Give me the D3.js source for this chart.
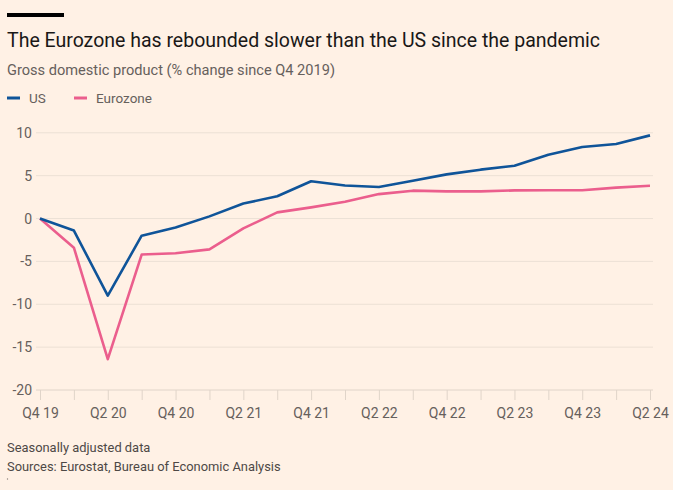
<!DOCTYPE html>
<html><head><meta charset="utf-8">
<script src="https://cdn.jsdelivr.net/npm/d3@7"></script>
<style>
html,body{margin:0;padding:0;background:#FFF1E5;}
svg{display:block;}
text{font-family:"Roboto","Noto Sans",sans-serif;}
</style></head>
<body>
<svg id="c" width="673" height="490"></svg>
<script>
const quarters = ["Q4 19","Q1 20","Q2 20","Q3 20","Q4 20","Q1 21","Q2 21","Q3 21","Q4 21","Q1 22","Q2 22","Q3 22","Q4 22","Q1 23","Q2 23","Q3 23","Q4 23","Q1 24","Q2 24"];
const usValues = [0,-1.4,-9.0,-2.0,-1.05,0.25,1.75,2.6,4.35,3.85,3.68,4.4,5.15,5.7,6.15,7.45,8.35,8.7,9.7];
const ezValues = [0,-3.4,-16.4,-4.2,-4.05,-3.6,-1.15,0.72,1.3,1.95,2.85,3.25,3.17,3.17,3.28,3.3,3.3,3.6,3.83];
const yTicks = [10,5,0,-5,-10,-15,-20];
const xLabels = ["Q4 19","Q2 20","Q4 20","Q2 21","Q4 21","Q2 22","Q4 22","Q2 23","Q4 23","Q2 24"];

const svg = d3.select("#c");
const x = d3.scalePoint().domain(quarters).range([40,650]);
const y = d3.scaleLinear().domain([-20,10]).range([390,132.8]);

// top bar
svg.append("rect").attr("x",7).attr("y",13).attr("width",57).attr("height",4).attr("fill","#000");
svg.append("text").attr("x",7).attr("y",47).attr("font-size",19.5).attr("fill","#1a1817").text("The Eurozone has rebounded slower than the US since the pandemic");
svg.append("text").attr("x",7).attr("y",75).attr("font-size",14.6).attr("fill","#66605c").text("Gross domestic product (% change since Q4 2019)");

// legend
const leg = [{n:"US",c:"#0f5499",x:7},{n:"Eurozone",c:"#eb5e8d",x:74}];
leg.forEach(l=>{
  svg.append("line").attr("x1",l.x).attr("x2",l.x+13).attr("y1",98).attr("y2",98).attr("stroke",l.c).attr("stroke-width",3);
  svg.append("text").attr("x",l.x+22).attr("y",103).attr("font-size",13.5).attr("fill","#66605c").text(l.n);
});

// grid
const g = svg.append("g");
g.selectAll("line.grid").data(yTicks.filter(d=>d!==-20)).join("line")
  .attr("x1",36).attr("x2",653).attr("y1",d=>y(d)).attr("y2",d=>y(d))
  .attr("stroke","#ece0d5").attr("stroke-width",1);
g.append("line").attr("x1",36).attr("x2",653).attr("y1",y(-20)).attr("y2",y(-20)).attr("stroke","#e0d4c9").attr("stroke-width",1);
g.selectAll("text.yl").data(yTicks).join("text")
  .attr("x",32).attr("y",d=>y(d)+5).attr("text-anchor","end").attr("font-size",14).attr("fill","#66605c")
  .text(d=>d);

// x axis
const xa = d3.axisBottom(x).tickSize(10).tickFormat(d=>xLabels.includes(d)?d:"");
const xg = svg.append("g").attr("transform",`translate(0,${y(-20)})`).call(xa);
xg.select(".domain").remove();
xg.selectAll(".tick line").attr("stroke","#e0d4c9");
xg.selectAll(".tick text").attr("font-size",14).attr("fill","#66605c").attr("dy","1.05em")
  .attr("font-family",'"Roboto",sans-serif');

// lines
const line = d3.line().x((d,i)=>x(quarters[i])).y(d=>y(d));
svg.append("path").datum(ezValues).attr("d",line).attr("fill","none").attr("stroke","#eb5e8d").attr("stroke-width",2.6).attr("stroke-linejoin","round");
svg.append("path").datum(usValues).attr("d",line).attr("fill","none").attr("stroke","#0f5499").attr("stroke-width",2.6).attr("stroke-linejoin","round");

// footer
svg.append("text").attr("x",7).attr("y",452).attr("font-size",12.9).attr("fill","#4d4845").text("Seasonally adjusted data");
svg.append("text").attr("x",7).attr("y",471).attr("font-size",12.9).attr("fill","#4d4845").text("Sources: Eurostat, Bureau of Economic Analysis");
svg.append("circle").attr("cx",7.5).attr("cy",479).attr("r",0.7).attr("fill","#8a817b");
</script>
</body></html>
